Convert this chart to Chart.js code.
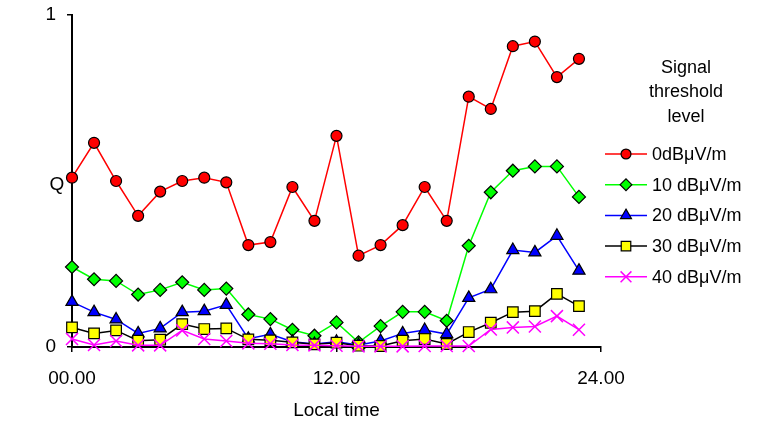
<!DOCTYPE html>
<html>
<head>
<meta charset="utf-8">
<script src="https://cdn.jsdelivr.net/npm/chart.js@4.4.0/dist/chart.umd.min.js"></script>
<style>
	html, body { margin: 0; padding: 0; background: #fff; }
	#wrap { width: 761px; height: 424px; }
</style>
</head>
<body>
<div id="wrap"><canvas id="qChart" width="761" height="424"></canvas></div>
<script>
// hour of day, one point per hour
const hours = [0,1,2,3,4,5,6,7,8,9,10,11,12,13,14,15,16,17,18,19,20,21,22,23];

// Q per signal threshold level
const q0dB  = [0.51,0.615,0.50,0.395,0.468,0.50,0.51,0.496,0.307,0.316,0.482,0.38,0.636,0.275,0.307,0.367,0.482,0.38,0.754,0.717,0.906,0.92,0.813,0.868];
const q10dB = [0.241,0.204,0.199,0.158,0.172,0.195,0.172,0.176,0.098,0.084,0.052,0.034,0.074,0.014,0.063,0.106,0.106,0.079,0.305,0.466,0.531,0.544,0.544,0.452];
const q20dB = [0.136,0.105,0.083,0.041,0.056,0.105,0.108,0.127,0.025,0.038,0.016,0.009,0.016,0.006,0.018,0.041,0.051,0.039,0.148,0.174,0.292,0.285,0.335,0.23];
const q30dB = [0.059,0.041,0.05,0.019,0.022,0.069,0.054,0.056,0.023,0.02,0.014,0.008,0.013,0.004,0.003,0.019,0.024,0.009,0.045,0.073,0.105,0.108,0.16,0.123];
const q40dB = [0.024,0.006,0.018,0.005,0.005,0.05,0.024,0.018,0.011,0.01,0.006,0.005,0.004,0.002,0.002,0.002,0.003,0.003,0.003,0.053,0.059,0.062,0.093,0.052];

const seriesLabels = ['0dB\u03bcV/m','10 dB\u03bcV/m','20 dB\u03bcV/m','30 dB\u03bcV/m','40 dB\u03bcV/m'];
const legendTitle = ['Signal','threshold','level'];

const xTickValues = [0, 12, 24];
const xTickLabels = ['00.00', '12.00', '24.00'];
const yTickValues = [0, 1];

const FONT = '"Liberation Sans", Arial, sans-serif';

function toPoints(values) {
	return values.map((v, i) => ({ x: hours[i], y: v }));
}

const styles = [
	{ line: '#ff0000', fill: '#ff0000', edge: '#000000', shape: 'circle',   r: 5.5 },
	{ line: '#00ff00', fill: '#00ff00', edge: '#000000', shape: 'rectRot',  r: 6.5 },
	{ line: '#0000ff', fill: '#0000ff', edge: '#000000', shape: 'triangle', r: 7 },
	{ line: '#000000', fill: '#ffff00', edge: '#000000', shape: 'rect',     r: 7.5 },
	{ line: '#ff00ff', fill: '#ff00ff', edge: '#ff00ff', shape: 'crossRot', r: 8.5 }
];
const allSeries = [q0dB, q10dB, q20dB, q30dB, q40dB];

const datasets = allSeries.map((vals, i) => ({
	label: seriesLabels[i],
	data: toPoints(vals),
	borderColor: styles[i].line,
	borderWidth: 1.5,
	pointStyle: styles[i].shape,
	pointRadius: styles[i].r,
	pointBackgroundColor: styles[i].fill,
	pointBorderColor: styles[i].edge,
	pointBorderWidth: i === 4 ? 1.5 : 1.2,
	tension: 0,
	clip: false,
	order: 4 - i
}));

// Q label (horizontal) and the right-hand legend
const extras = {
	id: 'extras',
	afterDraw(chart) {
		const ctx = chart.ctx;
		const area = chart.chartArea;
		ctx.save();
		ctx.fillStyle = '#000';
		ctx.font = '19px ' + FONT;
		ctx.textAlign = 'center';
		ctx.textBaseline = 'middle';
		ctx.fillText('Q', area.left - 15, (area.top + area.bottom) / 2 + 4);

		// legend title
		ctx.font = '18px ' + FONT;
		const cx = area.right + 85;
		legendTitle.forEach((t, i) => ctx.fillText(t, cx, 68 + i * 24.5));

		// legend entries
		ctx.textAlign = 'left';
		styles.forEach((s, i) => {
			const y = 154 + i * 30.7;
			const x0 = area.right + 4;
			ctx.strokeStyle = s.line;
			ctx.lineWidth = 1.5;
			ctx.beginPath();
			ctx.moveTo(x0, y);
			ctx.lineTo(x0 + 42, y);
			ctx.stroke();
			ctx.fillStyle = s.fill;
			ctx.strokeStyle = s.edge;
			ctx.lineWidth = i === 4 ? 1.5 : 1.2;
			Chart.helpers.drawPoint(ctx, { pointStyle: s.shape, radius: s.r * 0.9, rotation: 0, borderWidth: 1 }, x0 + 21, y);
			ctx.fillStyle = '#000';
			ctx.fillText(seriesLabels[i], x0 + 47, y + 1);
		});
		ctx.restore();
	}
};

const ctx = document.getElementById('qChart');
const chart = new Chart(ctx, {
	type: 'line',
	data: { datasets: datasets },
	options: {
		responsive: false,
		animation: false,
		layout: { padding: { top: 15, right: 160, left: 0, bottom: 0 } },
		plugins: {
			legend: { display: false },
			tooltip: { enabled: false },
			title: { display: false }
		},
		scales: {
			x: {
				type: 'linear',
				min: 0,
				max: 24,
				afterBuildTicks: axis => { axis.ticks = xTickValues.map(v => ({ value: v })); },
				afterFit: scale => { scale.height = 77; scale.paddingLeft = 0; scale.paddingRight = 0; },
				ticks: {
					autoSkip: false,
					maxRotation: 0,
					padding: 15,
					color: '#000',
					font: { family: FONT, size: 19 },
					callback: (v) => xTickLabels[xTickValues.indexOf(v)]
				},
				grid: { display: true, drawOnChartArea: false, drawTicks: true, tickLength: 5, color: '#000', lineWidth: 1.5 },
				border: { display: true, color: '#000', width: 2 },
				title: {
					display: true,
					text: 'Local time',
					color: '#000',
					font: { family: FONT, size: 19 },
					padding: { top: 0, bottom: 2 }
				}
			},
			y: {
				min: 0,
				max: 1,
				afterBuildTicks: axis => { axis.ticks = yTickValues.map(v => ({ value: v })); },
				afterFit: scale => { scale.width = 72; scale.paddingTop = 0; scale.paddingBottom = 0; },
				ticks: {
					padding: 11,
					color: '#000',
					font: { family: FONT, size: 19 },
					callback: (v) => String(v)
				},
				grid: { display: true, drawOnChartArea: false, drawTicks: true, tickLength: 5, color: '#000', lineWidth: 1.5 },
				border: { display: true, color: '#000', width: 2 }
			}
		}
	},
	plugins: [extras]
});
</script>
</body>
</html>
